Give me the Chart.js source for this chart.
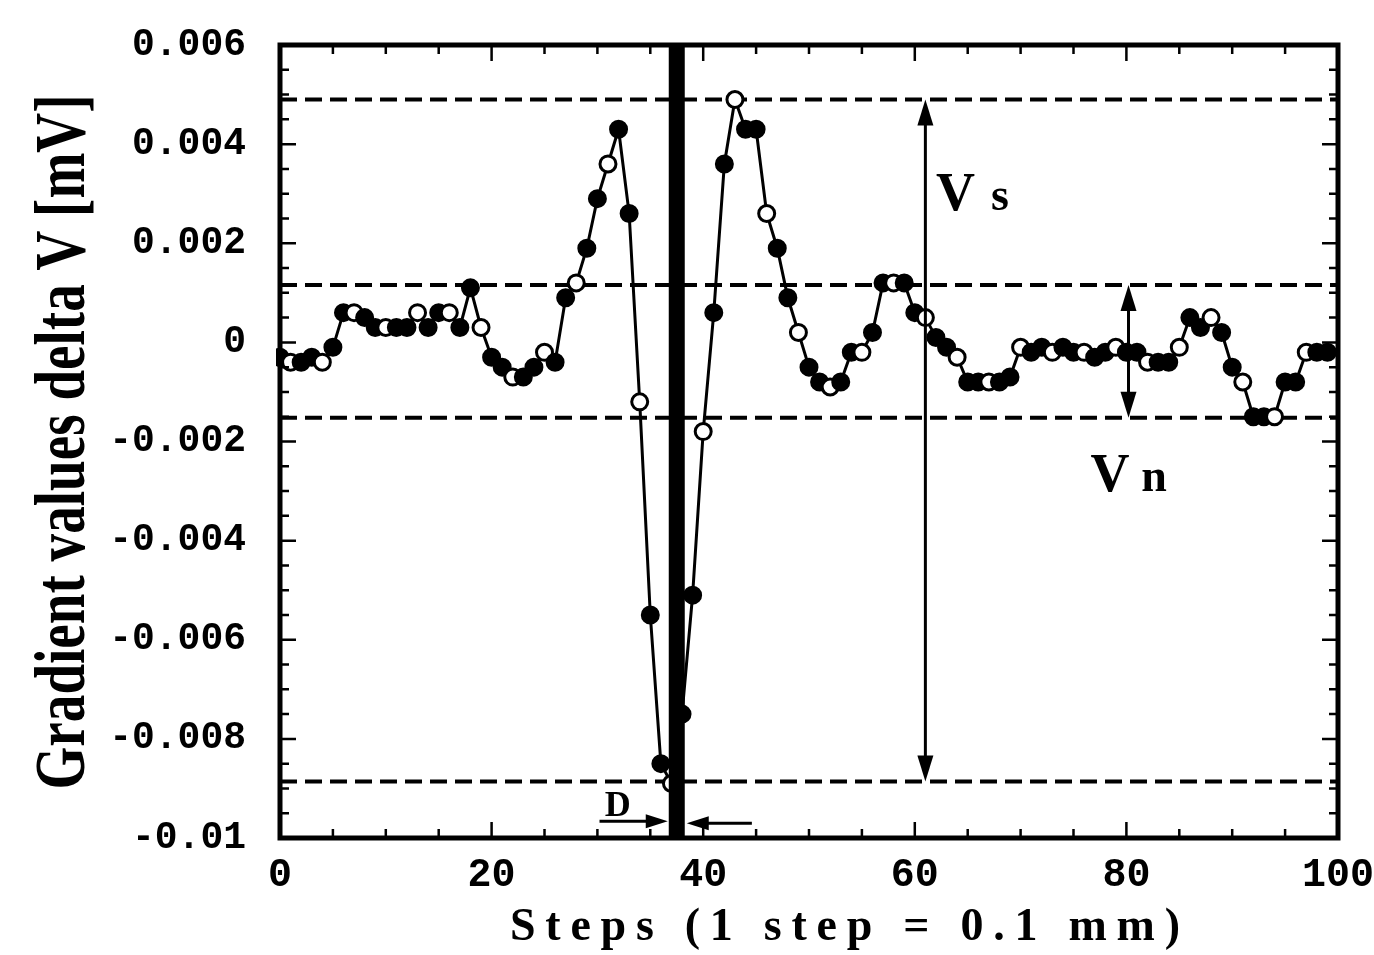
<!DOCTYPE html>
<html>
<head>
<meta charset="utf-8">
<script src="https://cdn.jsdelivr.net/npm/chart.js@4.4.0/dist/chart.umd.min.js"></script>
<style>
html,body{margin:0;padding:0;background:#fff;}
canvas{display:block;}
</style>
</head>
<body>
<canvas id="c" width="1374" height="955"></canvas>
<script>
// ---- data ----
const steps = [0,1,2,3,4,5,6,7,8,9,10,11,12,13,14,15,16,17,18,19,20,21,22,23,24,25,26,27,28,29,
  30,31,32,33,34,35,36,37,38,39,40,41,42,43,44,45,46,47,48,49,50,51,52,53,54,55,56,57,58,59,
  60,61,62,63,64,65,66,67,68,69,70,71,72,73,74,75,76,77,78,79,80,81,82,83,84,85,86,87,88,89,
  90,91,92,93,94,95,96,97,98,99];
const deltaV = [
  -0.0003,-0.0004,-0.0004,-0.0003,-0.0004,-0.0001,0.0006,0.0006,0.0005,0.0003,
  0.0003,0.0003,0.0003,0.0006,0.0003,0.0006,0.0006,0.0003,0.0011,0.0003,
  -0.0003,-0.0005,-0.0007,-0.0007,-0.0005,-0.0002,-0.0004,0.0009,0.0012,0.0019,
  0.0029,0.0036,0.0043,0.0026,-0.0012,-0.0055,-0.0085,-0.0089,-0.0075,-0.0051,
  -0.0018,0.0006,0.0036,0.0049,0.0043,0.0043,0.0026,0.0019,0.0009,0.0002,
  -0.0005,-0.0008,-0.0009,-0.0008,-0.0002,-0.0002,0.0002,0.0012,0.0012,0.0012,
  0.0006,0.0005,0.0001,-0.0001,-0.0003,-0.0008,-0.0008,-0.0008,-0.0008,-0.0007,
  -0.0001,-0.0002,-0.0001,-0.0002,-0.0001,-0.0002,-0.0002,-0.0003,-0.0002,-0.0001,
  -0.0002,-0.0002,-0.0004,-0.0004,-0.0004,-0.0001,0.0005,0.0003,0.0005,0.0002,
  -0.0005,-0.0008,-0.0015,-0.0015,-0.0015,-0.0008,-0.0008,-0.0002,-0.0002,-0.0002];
const xTicks = [0,20,40,60,80,100];
const yTicks = [0.006,0.004,0.002,0,-0.002,-0.004,-0.006,-0.008,-0.01];
const yTickLabels = ["0.006","0.004","0.002","0","-0.002","-0.004","-0.006","-0.008","-0.01"];
const dashedLevels = [0.0049, 0.00116, -0.00152, -0.00886];
const defectStep = 37.5;
const vsArrow = [61, 0.0049, -0.00886];   // step, top, bottom
const vnArrow = [80.2, 0.00116, -0.00152];
const xTitle = "Steps (1 step = 0.1 mm)";
const yTitle = "Gradient values delta V [mV]";

const points = steps.map((s,i)=>({x:s, y:deltaV[i]}));

function arrowHead(ctx, x1, y1, x2, y2, len, half){
  const a = Math.atan2(y2-y1, x2-x1);
  ctx.beginPath();
  ctx.moveTo(x2, y2);
  ctx.lineTo(x2 - len*Math.cos(a) + half*Math.sin(a), y2 - len*Math.sin(a) - half*Math.cos(a));
  ctx.lineTo(x2 - len*Math.cos(a) - half*Math.sin(a), y2 - len*Math.sin(a) + half*Math.cos(a));
  ctx.closePath();
  ctx.fill();
}
function arrow(ctx, x1, y1, x2, y2, both, len, half, lw){
  ctx.lineWidth = lw;
  const a = Math.atan2(y2-y1, x2-x1);
  const sx = both ? x1 + len*0.8*Math.cos(a) : x1, sy = both ? y1 + len*0.8*Math.sin(a) : y1;
  ctx.beginPath();
  ctx.moveTo(sx, sy);
  ctx.lineTo(x2 - len*0.8*Math.cos(a), y2 - len*0.8*Math.sin(a));
  ctx.stroke();
  arrowHead(ctx, x1, y1, x2, y2, len, half);
  if (both) arrowHead(ctx, x2, y2, x1, y1, len, half);
}

const overlay = {
  id: 'overlay',
  beforeDatasetsDraw(chart){
    const {ctx, chartArea:a, scales:{x, y}} = chart;
    ctx.save();
    ctx.strokeStyle = '#000';
    ctx.lineWidth = 4;
    ctx.setLineDash([17, 8]);
    dashedLevels.forEach(v=>{
      const py = y.getPixelForValue(v);
      ctx.beginPath(); ctx.moveTo(a.left, py); ctx.lineTo(a.right, py); ctx.stroke();
    });
    ctx.restore();
  },
  afterDatasetsDraw(chart){
    const {ctx, chartArea:a, scales:{x, y}} = chart;
    ctx.save();
    ctx.fillStyle = '#000'; ctx.strokeStyle = '#000';
    // thick vertical line at defect
    const dx = x.getPixelForValue(defectStep);
    ctx.fillRect(dx - 8, a.top, 16, a.bottom - a.top);
    // Vs / Vn arrows
    arrow(ctx, x.getPixelForValue(vsArrow[0]), y.getPixelForValue(vsArrow[1]),
               x.getPixelForValue(vsArrow[0]), y.getPixelForValue(vsArrow[2]), true, 26, 8, 3);
    arrow(ctx, x.getPixelForValue(vnArrow[0]), y.getPixelForValue(vnArrow[1]),
               x.getPixelForValue(vnArrow[0]), y.getPixelForValue(vnArrow[2]), true, 26, 8, 3);
    // D arrows
    const dy1 = y.getPixelForValue(-0.00966), dy2 = y.getPixelForValue(-0.0097);
    arrow(ctx, x.getPixelForValue(30.2), dy1, dx - 9, dy1, false, 22, 7, 3);
    arrow(ctx, x.getPixelForValue(44.6), dy2, dx + 10, dy2, false, 22, 7, 3);
    // labels
    ctx.textAlign = 'left'; ctx.textBaseline = 'alphabetic';
    ctx.font = 'bold 54px "Liberation Serif"';
    ctx.fillText('V', x.getPixelForValue(62.0), y.getPixelForValue(0.00268));
    ctx.font = 'bold 46px "Liberation Serif"';
    ctx.fillText('s', x.getPixelForValue(67.2), y.getPixelForValue(0.00268));
    ctx.font = 'bold 54px "Liberation Serif"';
    ctx.fillText('V', x.getPixelForValue(76.6), y.getPixelForValue(-0.003));
    ctx.font = 'bold 46px "Liberation Serif"';
    ctx.fillText('n', x.getPixelForValue(81.4), y.getPixelForValue(-0.003));
    ctx.font = 'bold 36px "Liberation Serif"';
    ctx.fillText('D', x.getPixelForValue(30.7), y.getPixelForValue(-0.00955));
    // frame
    ctx.lineWidth = 5;
    ctx.strokeRect(a.left, a.top, a.right - a.left, a.bottom - a.top);
    // ticks
    ctx.lineWidth = 2.5;
    ctx.beginPath();
    for (let v = 0; v <= 100.001; v += 5){
      const px = x.getPixelForValue(v);
      const L = (Math.abs(v % 20) < 0.01) ? 16 : 9;
      ctx.moveTo(px, a.bottom); ctx.lineTo(px, a.bottom - L);
      ctx.moveTo(px, a.top); ctx.lineTo(px, a.top + L);
    }
    for (let k = -20; k <= 12; k++){
      const v = k * 0.0005;
      const py = y.getPixelForValue(v);
      const L = (k % 4 === 0) ? 16 : 9;
      ctx.moveTo(a.left, py); ctx.lineTo(a.left + L, py);
      ctx.moveTo(a.right, py); ctx.lineTo(a.right - L, py);
    }
    ctx.stroke();
    ctx.restore();
  },
  afterDraw(chart){
    const {ctx} = chart;
    ctx.save();
    ctx.fillStyle = '#000';
    // y title (condensed)
    ctx.translate(84, 442);
    ctx.rotate(-Math.PI/2);
    ctx.font = 'bold 72px "Liberation Serif"';
    const w = ctx.measureText(yTitle).width;
    ctx.scale(695 / w, 1);
    ctx.textAlign = 'center'; ctx.textBaseline = 'alphabetic';
    ctx.fillText(yTitle, 0, 0);
    ctx.restore();
    // x title (letter-spaced)
    ctx.save();
    ctx.fillStyle = '#000';
    ctx.font = 'bold 46px "Liberation Serif"';
    ctx.letterSpacing = '0px';
    const w0 = ctx.measureText(xTitle).width;
    const ls = (670 - w0) / (xTitle.length - 1);
    ctx.letterSpacing = ls + 'px';
    ctx.textAlign = 'left'; ctx.textBaseline = 'alphabetic';
    ctx.fillText(xTitle, 510, 940);
    ctx.restore();
  }
};

new Chart(document.getElementById('c'), {
  type: 'line',
  data: {
    datasets: [{
      data: points,
      borderColor: '#000',
      borderWidth: 3,
      tension: 0,
      pointRadius: 8,
      pointBorderWidth: 3,
      pointBorderColor: '#000',
      pointBackgroundColor: (c) => (c.dataIndex % 3 === 1 ? '#fff' : '#000'),
      clip: 4
    }]
  },
  options: {
    responsive: false,
    animation: false,
    devicePixelRatio: 1,
    layout: { padding: { left: 0, right: 36, top: 45, bottom: 0 } },
    plugins: { legend: { display: false }, tooltip: { enabled: false } },
    scales: {
      x: {
        type: 'linear', min: 0, max: 100,
        afterFit: (s) => { s.height = 117; s.paddingLeft = 0; s.paddingRight = 0; },
        afterBuildTicks: (s) => { s.ticks = xTicks.map(v => ({value: v})); },
        grid: { display: false, drawTicks: false },
        border: { display: false },
        ticks: { color: '#000', padding: 14, maxRotation: 0, autoSkip: false,
                 font: { family: 'Liberation Mono', weight: 'bold', size: 40 },
                 callback: (v) => String(v) }
      },
      y: {
        type: 'linear', min: -0.01, max: 0.006,
        afterFit: (s) => { s.width = 280; s.paddingTop = 0; s.paddingBottom = 0; },
        afterBuildTicks: (s) => { s.ticks = yTicks.map(v => ({value: v})); },
        grid: { display: false, drawTicks: false },
        border: { display: false },
        ticks: { color: '#000', padding: 34, autoSkip: false,
                 font: { family: 'Liberation Mono', weight: 'bold', size: 38 },
                 callback: (v) => yTickLabels[yTicks.findIndex(t => Math.abs(t - v) < 1e-9)] }
      }
    }
  },
  plugins: [overlay]
});
</script>
</body>
</html>
